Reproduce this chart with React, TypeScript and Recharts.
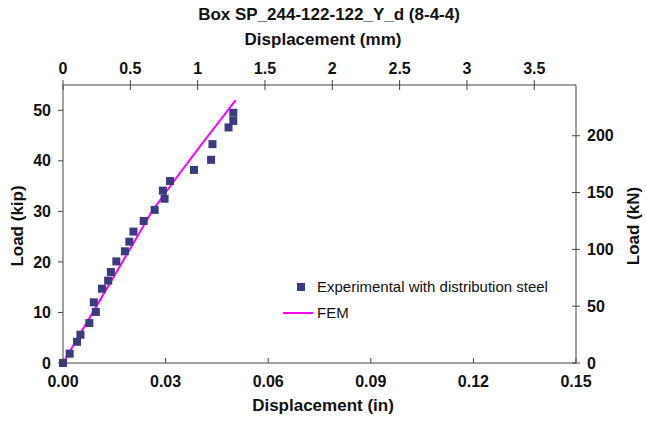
import { Scatter, ScatterChart, XAxis, YAxis, ZAxis } from 'recharts';

const experimental = [
  { x: 0.0, y: 0.0 },
  { x: 0.00195, y: 1.85 },
  { x: 0.0041, y: 4.2 },
  { x: 0.0051, y: 5.6 },
  { x: 0.0077, y: 7.9 },
  { x: 0.009, y: 12.0 },
  { x: 0.0096, y: 10.1 },
  { x: 0.0114, y: 14.7 },
  { x: 0.0132, y: 16.3 },
  { x: 0.014, y: 18.0 },
  { x: 0.0156, y: 20.1 },
  { x: 0.0181, y: 22.1 },
  { x: 0.0194, y: 24.0 },
  { x: 0.0206, y: 26.0 },
  { x: 0.0236, y: 28.1 },
  { x: 0.0268, y: 30.3 },
  { x: 0.0292, y: 34.1 },
  { x: 0.0297, y: 32.5 },
  { x: 0.0313, y: 36.0 },
  { x: 0.0383, y: 38.2 },
  { x: 0.0433, y: 40.2 },
  { x: 0.0437, y: 43.3 },
  { x: 0.0484, y: 46.6 },
  { x: 0.0498, y: 47.9 },
  { x: 0.0498, y: 49.5 },
];

const fem = [
  { x: 0.0, y: 0.0 },
  { x: 0.01, y: 11.5 },
  { x: 0.02, y: 23.0 },
  { x: 0.026, y: 30.0 },
  { x: 0.033, y: 36.5 },
  { x: 0.04, y: 42.8 },
  { x: 0.0505, y: 52.0 },
];

const inTicks = [0, 0.03, 0.06, 0.09, 0.12, 0.15];
const mmTicks = [0, 0.5, 1, 1.5, 2, 2.5, 3, 3.5];
const kipTicks = [0, 10, 20, 30, 40, 50];
const kNTicks = [0, 50, 100, 150, 200];

// same points in SI units, only so the secondary axes have a series
const femSI = fem.map((p) => ({ x: p.x * 25.4, y: p.y * 4.44822 }));

const FONT = '"Liberation Sans", Arial, sans-serif';
const INK = '#111';
const AXIS = '#444';
const MARK = '#3b3b80';
const TICK_FS = 16;

const BottomTick = ({ x, y, payload }: any) => (
  <g>
    <line x1={x} x2={x} y1={y - 13} y2={y - 18} stroke={AXIS} />
    <text x={x} y={y} dy="0.71em" textAnchor="middle" fontFamily={FONT} fontWeight="bold" fontSize={TICK_FS} fill={INK}>
      {Number(payload.value).toFixed(2)}
    </text>
  </g>
);

const TopTick = ({ x, y, payload }: any) => (
  <g>
    <line x1={x} x2={x} y1={y + 6} y2={y + 16} stroke={AXIS} />
    <text x={x} y={y} textAnchor="middle" fontFamily={FONT} fontWeight="bold" fontSize={TICK_FS} fill={INK}>
      {String(payload.value)}
    </text>
  </g>
);

const LeftTick = ({ x, y, payload }: any) => (
  <g>
    <line x1={x + 7} x2={x + 12} y1={y} y2={y} stroke={AXIS} />
    <text x={x} y={y} dy="0.355em" textAnchor="end" fontFamily={FONT} fontWeight="bold" fontSize={TICK_FS} fill={INK}>
      {String(payload.value)}
    </text>
  </g>
);

const RightTick = ({ x, y, payload }: any) => (
  <g>
    <line x1={x - 15} x2={x - 7} y1={y} y2={y} stroke={AXIS} />
    <text x={x} y={y} dy="0.355em" textAnchor="start" fontFamily={FONT} fontWeight="bold" fontSize={TICK_FS} fill={INK}>
      {String(payload.value)}
    </text>
  </g>
);

const SquareDot = ({ cx, cy }: any) => <rect x={cx - 4} y={cy - 4} width={8} height={8} fill={MARK} />;

const label: React.CSSProperties = {
  position: 'absolute',
  fontFamily: FONT,
  fontWeight: 'bold',
  fontSize: 17,
  color: INK,
  whiteSpace: 'nowrap',
  transform: 'translate(-50%, -50%)',
};

export default function App() {
  return (
    <div style={{ position: 'absolute', left: 0, top: 0, width: 646, height: 421, background: '#fff' }}>
      <ScatterChart width={646} height={421} margin={{ top: 0, right: 0, bottom: 0, left: 0 }}>
        <XAxis
          xAxisId="in"
          dataKey="x"
          type="number"
          domain={[0, 0.15]}
          ticks={inTicks}
          height={58}
          tickSize={0}
          tickMargin={13}
          stroke={AXIS}
          tick={<BottomTick />}
          interval={0}
        />
        <XAxis
          xAxisId="mm"
          dataKey="x"
          orientation="top"
          type="number"
          domain={[0, 3.81]}
          ticks={mmTicks}
          height={85}
          tickSize={0}
          tickMargin={11}
          stroke={AXIS}
          tick={<TopTick />}
          interval={0}
          allowDataOverflow
        />
        <YAxis
          yAxisId="kip"
          dataKey="y"
          type="number"
          domain={[0, 55]}
          ticks={kipTicks}
          width={63}
          tickSize={0}
          tickMargin={12}
          stroke={AXIS}
          tick={<LeftTick />}
          interval={0}
        />
        <YAxis
          yAxisId="kN"
          dataKey="y"
          orientation="right"
          type="number"
          domain={[0, 244.65]}
          ticks={kNTicks}
          width={70}
          tickSize={0}
          tickMargin={11}
          stroke={AXIS}
          tick={<RightTick />}
          interval={0}
          allowDataOverflow
        />
        <ZAxis range={[64, 64]} />
        <Scatter
          xAxisId="mm"
          yAxisId="kN"
          data={femSI}
          shape={() => <g />}
          isAnimationActive={false}
        />
        <Scatter
          name="FEM"
          xAxisId="in"
          yAxisId="kip"
          data={fem}
          line={{ stroke: '#ff00ff', strokeWidth: 2 }}
          shape={() => <g />}
          isAnimationActive={false}
        />
        <Scatter
          name="Experimental with distribution steel"
          xAxisId="in"
          yAxisId="kip"
          data={experimental}
          shape={<SquareDot />}
          isAnimationActive={false}
        />
      </ScatterChart>
      <div style={{ position: 'absolute', left: 283, top: 274, fontFamily: FONT, fontSize: 15, color: INK, lineHeight: '26px' }}>
        <div style={{ display: 'flex', alignItems: 'center' }}>
          <span style={{ width: 34, display: 'inline-flex', justifyContent: 'flex-end' }}>
            <span style={{ width: 8, height: 8, background: MARK, marginRight: 12 }} />
          </span>
          Experimental with distribution steel
        </div>
        <div style={{ display: 'flex', alignItems: 'center' }}>
          <span style={{ width: 30, height: 2, background: '#ff00ff', marginRight: 4 }} />
          FEM
        </div>
      </div>
      <div style={{ ...label, left: 329, top: 15 }}>Box SP_244-122-122_Y_d (8-4-4)</div>
      <div style={{ ...label, left: 323, top: 40 }}>Displacement (mm)</div>
      <div style={{ ...label, left: 323, top: 406 }}>Displacement (in)</div>
      <div style={{ ...label, left: 18, top: 226, transform: 'translate(-50%, -50%) rotate(-90deg)' }}>Load (kip)</div>
      <div style={{ ...label, left: 634, top: 226, transform: 'translate(-50%, -50%) rotate(-90deg)' }}>Load (kN)</div>
    </div>
  );
}
